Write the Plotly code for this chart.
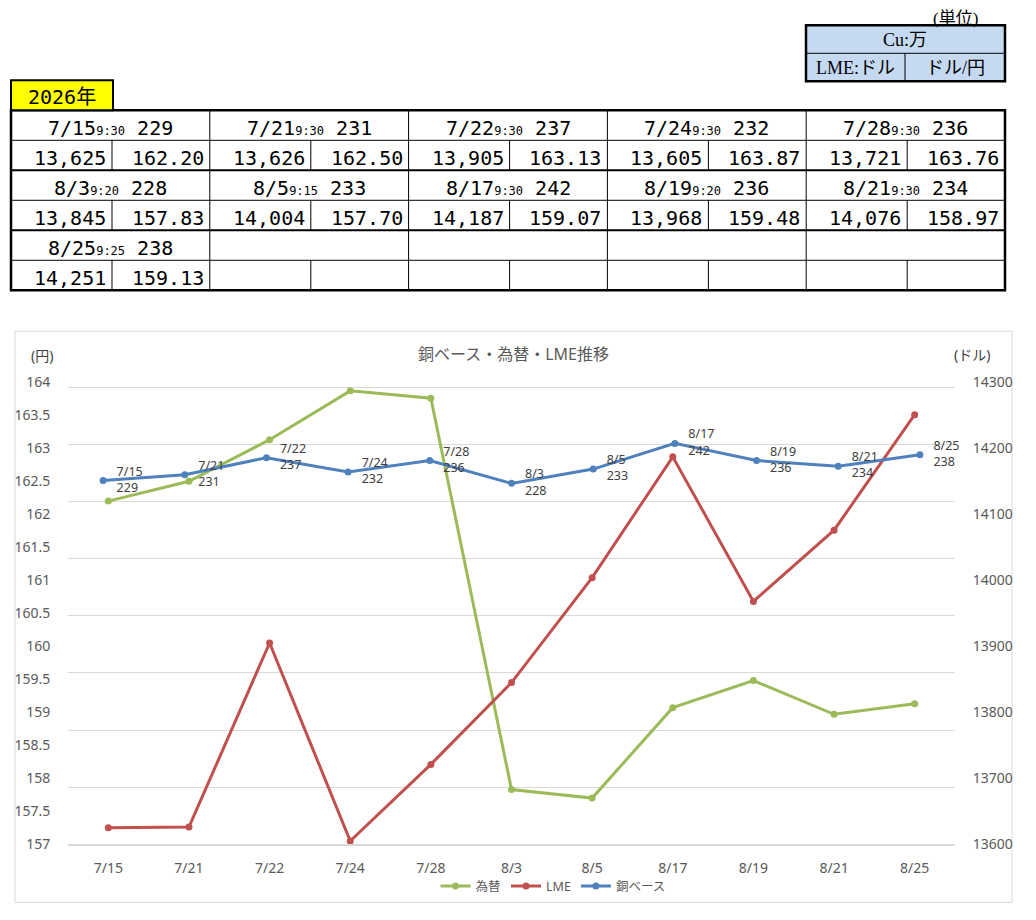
import plotly.graph_objects as go

# data read from the sheet
dates = ["7/15", "7/21", "7/22", "7/24", "7/28", "8/3", "8/5", "8/17", "8/19", "8/21", "8/25"]
times = ["9:30", "9:30", "9:30", "9:30", "9:30", "9:20", "9:15", "9:30", "9:20", "9:30", "9:25"]
copper_base = [229, 231, 237, 232, 236, 228, 233, 242, 236, 234, 238]
lme = [13625, 13626, 13905, 13605, 13721, 13845, 14004, 14187, 13968, 14076, 14251]
fx = [162.20, 162.50, 163.13, 163.87, 163.76, 157.83, 157.70, 159.07, 159.48, 158.97, 159.13]

yen_ticks = [157, 157.5, 158, 158.5, 159, 159.5, 160, 160.5, 161, 161.5, 162, 162.5, 163, 163.5, 164]
dollar_ticks = [13600, 13700, 13800, 13900, 14000, 14100, 14200, 14300]

year_label = "2026年"
unit_title = "(単位)"
unit_cu = "Cu:万"
unit_lme = "LME:ドル"
unit_fx = "ドル/円"
chart_title = "銅ベース・為替・LME推移"

# page geometry: measured from earlier renders (figure starts ~8px left, ~17px down,
# vertical scale ~0.979 in the photo)
W, H = 1020, 904
OFFX, OFFY, SY = 8, 16.7, 0.979


def px(x):
    return (x - OFFX) / W


def py(y):
    f = (y - OFFY) / SY
    f = min(max(f, 0.5), H - 0.5)
    return 1 - f / H


TABLE_FONT = "DejaVu Sans Mono, Noto Sans CJK JP"
SERIF_FONT = "Liberation Serif, Noto Sans CJK JP"
CHART_FONT = "Noto Sans, Noto Sans CJK JP"
GREEN, RED, BLUE = "#9BBB59", "#C0504D", "#4F81BD"
GRID = "#D9D9D9"
TXT = "#595959"

fig = go.Figure()

fig.add_trace(go.Scatter(
    x=dates, y=fx, name="為替", mode="lines+markers",
    line=dict(color=GREEN, width=3), marker=dict(size=7, color=GREEN),
    xaxis="x", yaxis="y",
))
fig.add_trace(go.Scatter(
    x=dates, y=lme, name="LME", mode="lines+markers",
    line=dict(color=RED, width=3), marker=dict(size=7, color=RED),
    xaxis="x", yaxis="y2",
))
fig.add_trace(go.Scatter(
    x=dates, y=copper_base, name="銅ベース", mode="lines+markers",
    line=dict(color=BLUE, width=3), marker=dict(size=7, color=BLUE),
    xaxis="x2", yaxis="y3",
))
# data labels for the copper base series (invisible markers push the text aside)
fig.add_trace(go.Scatter(
    x=dates, y=copper_base, mode="markers+text", showlegend=False, hoverinfo="skip",
    text=[f"{d}<br>{v}" for d, v in zip(dates, copper_base)],
    textposition="middle right", marker=dict(size=20, opacity=0), cliponaxis=False,
    textfont=dict(family=CHART_FONT, size=12.5, color="#404040"),
    xaxis="x2", yaxis="y3",
))

xdom = [px(68), px(955)]
ydom = [py(843), py(381)]

shapes = []
annotations = []


def note(x, y, text, font, **kw):
    a = dict(x=px(x), y=py(y), xref="paper", yref="paper", text=text,
             showarrow=False, font=font, xanchor="center", yanchor="middle")
    a.update(kw)
    annotations.append(a)


# chart frame
shapes.append(dict(type="rect", xref="paper", yref="paper",
                   x0=px(15), x1=px(1012), y0=py(903), y1=py(330),
                   line=dict(color=GRID, width=1), layer="below"))

note(513, 353, chart_title, dict(family=CHART_FONT, size=16, color=TXT))
note(42, 354, "(円)", dict(family=CHART_FONT, size=14, color="#404040"))
note(972, 353, "(ドル)", dict(family=CHART_FONT, size=14, color="#404040"))

# ---- table ----
TX0, TX1, TY0, RH = 11, 1005, 109, 30
GW = (TX1 - TX0) / 5
SUB = 101


def hline(y, x0, x1, w):
    shapes.append(dict(type="line", xref="paper", yref="paper",
                       x0=px(x0), x1=px(x1), y0=py(y), y1=py(y),
                       line=dict(color="black", width=w)))


def vline(x, y0, y1, w):
    shapes.append(dict(type="line", xref="paper", yref="paper",
                       x0=px(x), x1=px(x), y0=py(y0), y1=py(y1),
                       line=dict(color="black", width=w)))


for k in range(1, 6):
    hline(TY0 + k * RH, TX0, TX1, 2 if k % 2 == 0 else 1)
for c in range(1, 5):
    vline(TX0 + c * GW, TY0, TY0 + 6 * RH, 1)
for r in range(3):
    for c in range(5):
        vline(TX0 + c * GW + SUB, TY0 + RH + r * 2 * RH, TY0 + 2 * RH + r * 2 * RH, 1)
shapes.append(dict(type="rect", xref="paper", yref="paper",
                   x0=px(TX0), x1=px(TX1), y0=py(TY0 + 6 * RH), y1=py(TY0),
                   line=dict(color="black", width=2.5)))

big = dict(family=TABLE_FONT, size=20, color="black")
for i, d in enumerate(dates):
    r, c = divmod(i, 5)
    gx = TX0 + c * GW
    ty = TY0 + r * 2 * RH
    note(gx + GW / 2, ty + RH / 2 + 3,
         f"{d}<span style='font-size:12px'>{times[i]}</span>\u2002{copper_base[i]}", big)
    note(gx + SUB - 4, ty + RH * 1.5 + 3, f"{lme[i]:,}", big, xanchor="right")
    note(gx + GW - 4, ty + RH * 1.5 + 3, f"{fx[i]:.2f}", big, xanchor="right")

# year tag
shapes.append(dict(type="rect", xref="paper", yref="paper",
                   x0=px(11), x1=px(113), y0=py(109), y1=py(79),
                   fillcolor="#FFFF00", line=dict(color="black", width=2)))
note(62, 96, year_label, big)

# unit box
shapes.append(dict(type="rect", xref="paper", yref="paper",
                   x0=px(806), x1=px(1005), y0=py(80), y1=py(24),
                   fillcolor="#C5D9F1", line=dict(color="black", width=2.5)))
hline(52, 806, 1005, 1)
vline(905, 52, 80, 1)
serif = dict(family=SERIF_FONT, size=18, color="black")
note(955, 15, unit_title, dict(family=SERIF_FONT, size=17, color="black"), yanchor="middle")
note(905, 39, unit_cu, serif)
note(855, 67, unit_lme, serif)
note(955, 67, unit_fx, serif)

tickfont = dict(family=CHART_FONT, size=14, color=TXT)

fig.update_layout(
    width=W, height=H,
    margin=dict(l=0, r=0, t=0, b=0),
    paper_bgcolor="white", plot_bgcolor="white",
    showlegend=True,
    legend=dict(orientation="h", x=px(553), y=py(885), xanchor="center", yanchor="middle",
                font=dict(family=CHART_FONT, size=12.5, color=TXT),
                itemwidth=30, tracegroupgap=0, bgcolor="rgba(0,0,0,0)"),
    xaxis=dict(domain=xdom, type="category", categoryarray=dates, range=[-0.5, 10.5],
               showgrid=False, showline=True, linecolor=GRID, linewidth=1.5,
               ticks="outside", ticklen=10, tickcolor="rgba(0,0,0,0)",
               tickfont=tickfont, fixedrange=True),
    xaxis2=dict(domain=xdom, type="category", categoryarray=dates, range=[-0.43, 10.43],
                overlaying="x", visible=False),
    yaxis=dict(domain=ydom, range=[157, 164], tickvals=yen_ticks,
               ticktext=[f"{v:g}" for v in yen_ticks],
               showgrid=False, zeroline=False, showline=False,
               ticks="outside", ticklen=14, tickcolor="rgba(0,0,0,0)", tickfont=tickfont),
    yaxis2=dict(domain=ydom, range=[13600, 14300], tickvals=dollar_ticks,
                ticktext=[str(v) for v in dollar_ticks],
                overlaying="y", side="right",
                showgrid=False, zeroline=False, showline=False,
                ticks="outside", ticklen=14, tickcolor="rgba(0,0,0,0)", tickfont=tickfont),
    yaxis3=dict(domain=ydom, range=[101.6, 263.4], tick0=101.6, dtick=20,
                overlaying="y", showgrid=True, gridcolor=GRID, gridwidth=1,
                showticklabels=False, zeroline=False, showline=False, ticks=""),
    shapes=shapes,
    annotations=annotations,
)

fig.write_html("out.html")
